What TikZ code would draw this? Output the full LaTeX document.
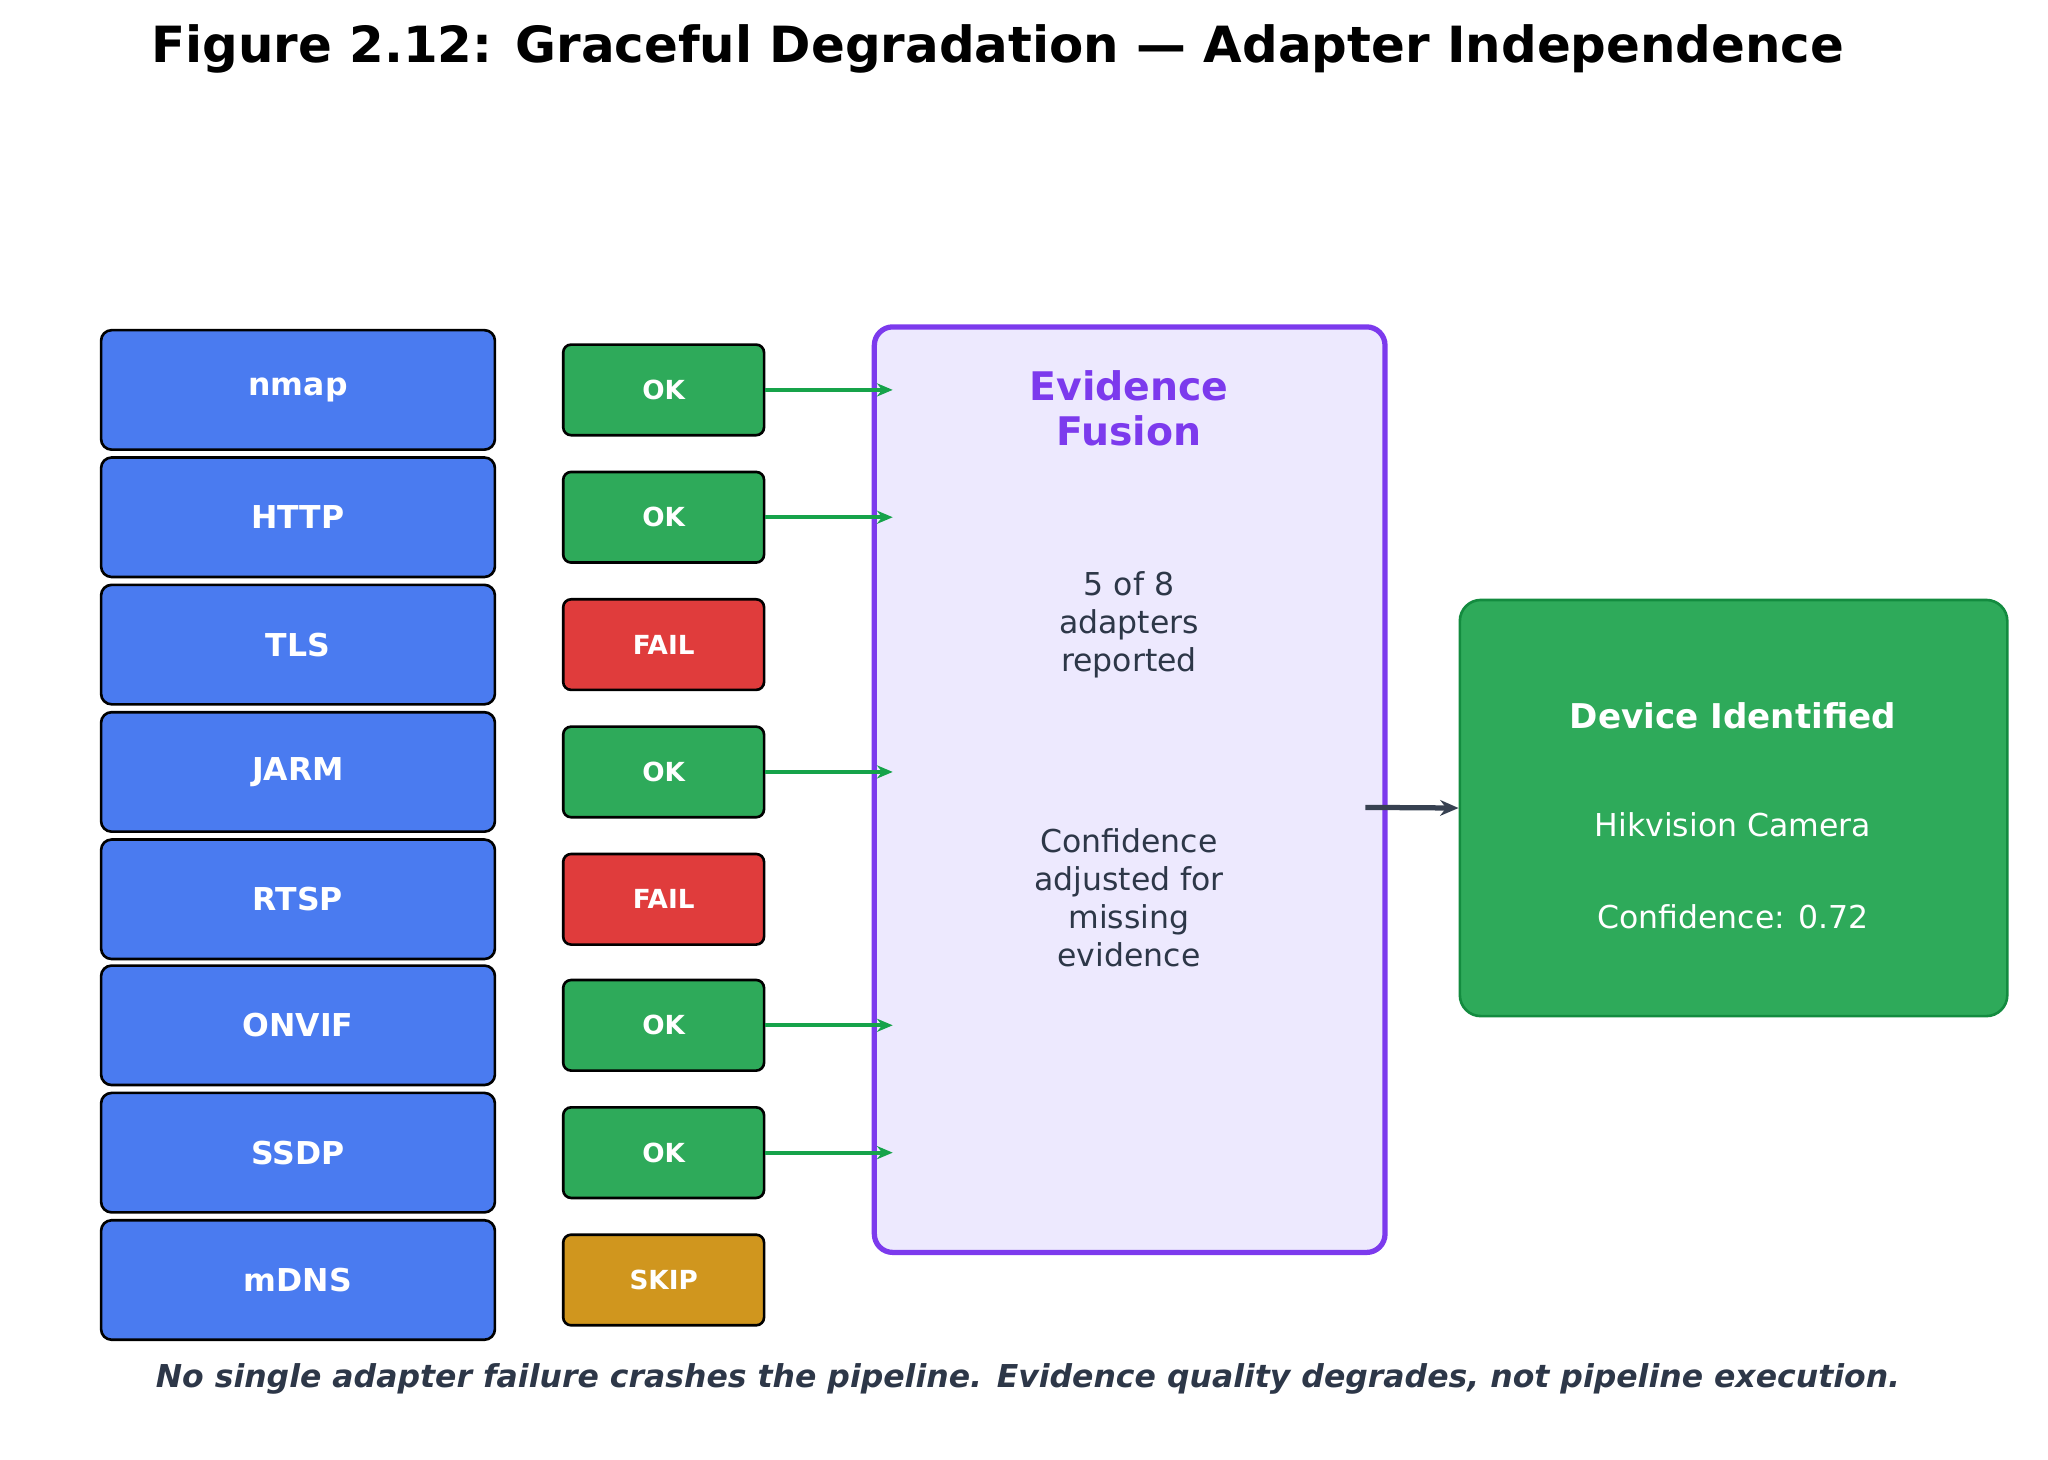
\documentclass[tikz,border=0pt]{standalone}
\usepackage{fontspec}
\setmainfont{DejaVu Sans}
\usetikzlibrary{arrows.meta}
\definecolor{ablue}{HTML}{4A7BF0}
\definecolor{okg}{HTML}{2EAA5A}
\definecolor{failr}{HTML}{E03C3C}
\definecolor{skipy}{HTML}{D0961E}
\definecolor{fusfill}{HTML}{EDE9FE}
\definecolor{purp}{HTML}{7C3AED}
\definecolor{txt}{HTML}{2D3748}
\definecolor{arr}{HTML}{374151}
\definecolor{agreen}{HTML}{16A34A}
\begin{document}
\begin{tikzpicture}[x=0.5pt,y=-0.5pt,
 adapter/.style={draw=black,line width=1pt,fill=ablue,rounded corners=4pt,minimum width=150pt,minimum height=45.5pt,text=white,font=\fontsize{12}{14}\selectfont\bfseries},
 status/.style={draw=black,line width=1pt,rounded corners=3pt,minimum width=76.5pt,minimum height=34.5pt,text=white,font=\fontsize{10}{12}\selectfont\bfseries},
 garr/.style={draw=agreen,line width=1.5pt,-{Stealth[length=6pt,width=5pt]}}]
\useasboundingbox (0,0) rectangle (1560,1112);
\node[font=\fontsize{19}{22}\selectfont\bfseries] (title) at (760,37) {Figure 2.12: Graceful Degradation — Adapter Independence};
\node[draw=purp,line width=2pt,fill=fusfill,rounded corners=7pt,minimum width=194.5pt,minimum height=352.5pt] (fus) at (860.5,601.5) {};
\node[text=purp,font=\fontsize{15}{17}\selectfont\bfseries,align=center] (ft) at (860,311) {Evidence\\Fusion};
\node[text=txt,font=\fontsize{12}{14.5}\selectfont,align=center] (f1) at (860,476) {5 of 8\\adapters\\reported};
\node[text=txt,font=\fontsize{12}{14.5}\selectfont,align=center] (f2) at (860,684) {Confidence\\adjusted for\\missing\\evidence};
\coordinate (fin1) at (680,297);
\foreach \n/\y/\s/\c/\i in {nmap/297/OK/okg/1,HTTP/394/OK/okg/2,TLS/491/FAIL/failr/3,JARM/588/OK/okg/4,RTSP/685/FAIL/failr/5,ONVIF/781/OK/okg/6,SSDP/878/OK/okg/7,mDNS/975/SKIP/skipy/8}{
 \node[adapter] (a\i) at (227,\y) {\n};
 \node[status,fill=\c] (s\i) at (505.5,\y) {\s};
 \coordinate (e\i) at (680,\y);
}
\foreach \i in {1,2,4,6,7}{\draw[garr] (s\i.east) -- (e\i);}
\node[draw=agreen!85!black,line width=1pt,fill=okg,rounded corners=8pt,minimum width=208.5pt,minimum height=158.5pt] (dev) at (1320.5,615.5) {};
\node[text=white,font=\fontsize{13}{15}\selectfont\bfseries] (d1) at (1320,545) {Device Identified};
\node[text=white,font=\fontsize{12}{14}\selectfont] (d2) at (1320,628) {Hikvision Camera};
\node[text=white,font=\fontsize{12}{14}\selectfont] (d3) at (1320,698) {Confidence: 0.72};
\coordinate (fo) at (1040,615);
\draw[draw=arr,line width=2pt,-{Stealth[length=7pt,width=6pt]}] (fo) -- (dev.west);
\node[text=txt,font=\fontsize{12}{14}\selectfont\bfseries\itshape] (cap) at (783,1050) {No single adapter failure crashes the pipeline. Evidence quality degrades, not pipeline execution.};
\end{tikzpicture}
\end{document}
